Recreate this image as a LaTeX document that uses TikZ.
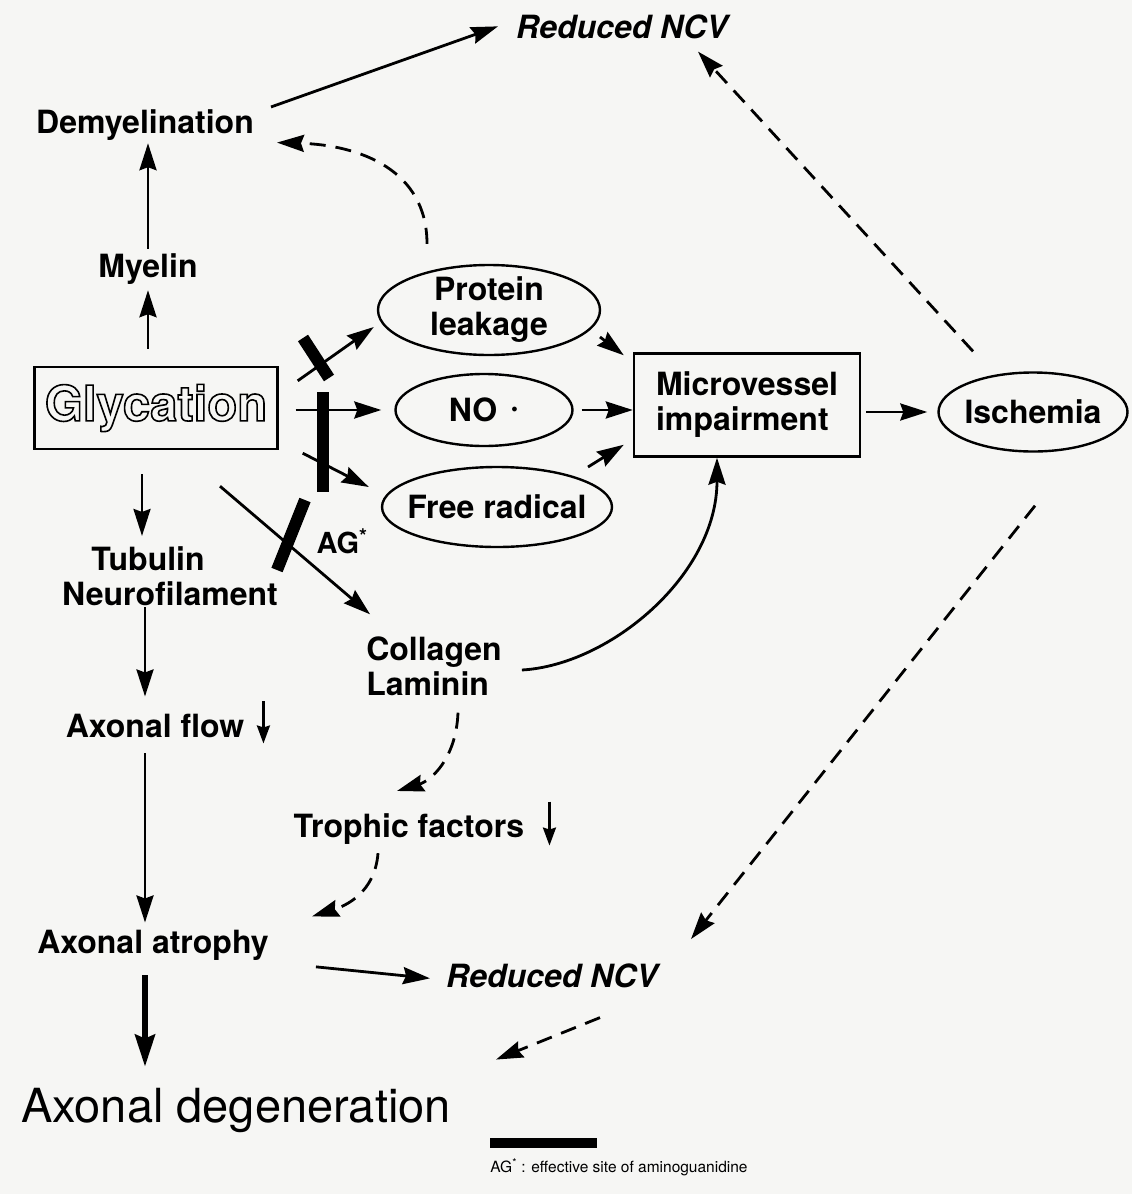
\documentclass[tikz,border=0pt]{standalone}
\usepackage{fontspec}
\setmainfont{TeX Gyre Heros}
\usetikzlibrary{arrows.meta,shapes.geometric,calc}
\definecolor{paper}{RGB}{246,246,244}
\newcommand\outlinetext[1]{\special{pdf:literal direct 1 Tr 1.6 w}#1\special{pdf:literal direct 0 Tr 1 w}}
\begin{document}
\begin{tikzpicture}[x=1pt,y=-1pt,
  lbl/.style={font=\fontsize{32}{35}\selectfont\bfseries, inner sep=0pt, text=black},
  tlbl/.style={lbl, anchor=base},
  oval/.style={ellipse, draw, line width=2.4pt, inner sep=0pt},
  boxn/.style={rectangle, draw, line width=2.4pt, inner sep=0pt},
  arr/.style={line width=2.8pt, -{Stealth[length=27pt,width=17pt,inset=3pt]}},
  sarr/.style={line width=2.6pt, -{Stealth[length=18pt,width=13pt,inset=2pt]}},
  darr/.style={arr, dash pattern=on 16pt off 10pt},
  blocker/.style={line width=12pt},
]
\fill[paper] (0,0) rectangle (1132,1194);
\useasboundingbox (0,0) rectangle (1132,1194);

% ---- text nodes
\node[tlbl] (demy) at (145,133) {Demyelination};
\node[tlbl] (myel) at (148,277) {Myelin};
\node[tlbl, font=\fontsize{32}{35}\selectfont\bfseries\itshape] (ncvT) at (622,38) {Reduced NCV};
\node[tlbl] (tub) at (148,570) {Tubulin};
\node[tlbl] (neuro) at (170,605) {Neurofilament};
\node[tlbl] (flow) at (155,737) {Axonal flow};
\node[tlbl] (atro) at (153,953) {Axonal atrophy};
\node[tlbl] (troph) at (409,837) {Trophic factors};
\node[lbl, align=left] (coll) at (434,666) {Collagen\\Laminin};
\node[tlbl, font=\fontsize{32}{35}\selectfont\bfseries\itshape] (ncvB) at (552,987) {Reduced NCV};
\node[anchor=base, inner sep=0pt, font=\fontsize{47}{50}\selectfont] (deg) at (236,1122) {Axonal degeneration};
\node[tlbl, font=\fontsize{29}{32}\selectfont\bfseries] (ag) at (342,553) {AG\textsuperscript{*}};
\node[anchor=base, inner sep=0pt, font=\fontsize{15.5}{18}\selectfont] (foot) at (619,1172) {AG\textsuperscript{*} : effective site of aminoguanidine};

% ---- shaped nodes
\node[boxn, minimum width=243pt, minimum height=82pt, font=\fontsize{49}{52}\selectfont\bfseries] (glyc) at (156,408) {\outlinetext{Glycation}};
\node[oval, minimum width=222pt, minimum height=90pt] (prot) at (489,310) {};
\node[lbl, align=center] (protT) at (prot.center) {Protein\\leakage};
\node[oval, minimum width=177pt, minimum height=72pt] (no) at (484,410) {};
\node[lbl] (noT) at (no.center) {NO\hspace{0.4em}\raisebox{0.12em}{·}};
\node[oval, minimum width=230pt, minimum height=80pt] (frad) at (497,507) {};
\node[lbl] (fradT) at (frad.center) {Free radical};
\node[boxn, minimum width=226pt, minimum height=103pt, lbl, align=left] (micro) at (747,405) {Microvessel\\impairment};
\node[oval, minimum width=189pt, minimum height=79pt] (isch) at (1033,412) {};
\node[lbl] (ischT) at (isch.center) {Ischemia};

% ---- AG blocking bars
\draw[blocker] (303,338) -- (329,378);
\draw[blocker] (323,392) -- (323,492);
\draw[blocker] (305,500) -- (277,570);
% legend bar
\fill (490,1138) rectangle (597,1148);

% ---- left column
\draw[arr, shorten <=4pt, shorten >=3pt] (myel.north) -- (myel.north |- demy.south);
\draw[arr, shorten <=17pt, shorten >=6pt] (myel.south |- glyc.north) -- (myel.south);
\draw[arr] ($(glyc.south)+(-14,24)$) -- ($(tub.north)+(-6,-10)$);
\draw[arr] ($(neuro.south)+(-25,2)$) -- ($(flow.north)+(-10,-17)$);
\draw[arr] ($(flow.south)+(-10,16)$) -- ($(atro.north)+(-8,-7)$);
\draw[line width=5.5pt, -{Stealth[length=32pt,width=20pt,inset=4pt]}] ($(atro.south)+(-8,15)$) -- ($(atro.south |- deg.north)+(-8,-21)$);
\coordinate (fd1) at ($(flow.east)+(19,-24)$);
\coordinate (fd2) at ($(flow.east)+(19,18)$);
\draw[sarr] (fd1) -- (fd2);
\coordinate (td1) at ($(troph.east)+(25,-27)$);
\coordinate (td2) at ($(troph.east)+(25,17)$);
\draw[sarr] (td1) -- (td2);

% ---- top
\draw[arr] ($(demy.north east)+(17,-2)$) -- ($(ncvT.west)+(-18,0)$);
\draw[darr] ($(prot.north)+(-62,-20)$) .. controls (427,170) and (360,145) .. ($(demy.east)+(23,18)$);
\draw[darr] ($(isch.north)+(-60,-20)$) -- ($(ncvT.south east)+(-30,13)$);
\draw[darr] ($(isch.south)+(2,53)$) -- ($(ncvB.north east)+(33,-24)$);

% ---- glycation to middle
\draw[arr] ($(glyc.north east)+(19,15)$) -- ($(prot.west)+(-3,17)$);
\draw[arr, shorten <=17pt, shorten >=13pt] (glyc.east |- no.west) -- (no.west);
\draw[arr] ($(glyc.south east)+(24,3)$) -- ($(frad.west)+(-12,-20)$);
\draw[arr] ($(glyc.south)+(64,36)$) -- ($(coll.north west)+(4,-22)$);

% ---- into microvessel
\draw[arr] ($(prot.center)+(111,27)$) -- ($(micro.north west)+(-9,3)$);
\draw[arr, shorten <=8pt] (no.east) -- (micro.west |- no.east);
\draw[arr] ($(frad.center)+(91,-40)$) -- ($(micro.south west)+(-9,-13)$);
\draw[arr, shorten <=5pt, shorten >=10pt] (micro.east |- isch.west) -- (isch.west);
\draw[arr] ($(coll.east)+(20,4)$) .. controls (610,665) and (717,575) .. ($(micro.south)+(-30,0)$);

% ---- lower
\draw[darr] ($(coll.south)+(24,17)$) .. controls (456,760) and (430,781) .. ($(troph.north)+(-12,-22)$);
\draw[darr] ($(troph.south)+(-31,9)$) .. controls (375,893) and (345,906) .. ($(atro.north east)+(43,-13)$);
\draw[arr] ($(atro.east)+(47,22)$) -- ($(ncvB.west)+(-16,3)$);
\draw[darr] ($(ncvB.south)+(48,30)$) -- ($(deg.north east)+(45,-28)$);
\end{tikzpicture}
\end{document}
